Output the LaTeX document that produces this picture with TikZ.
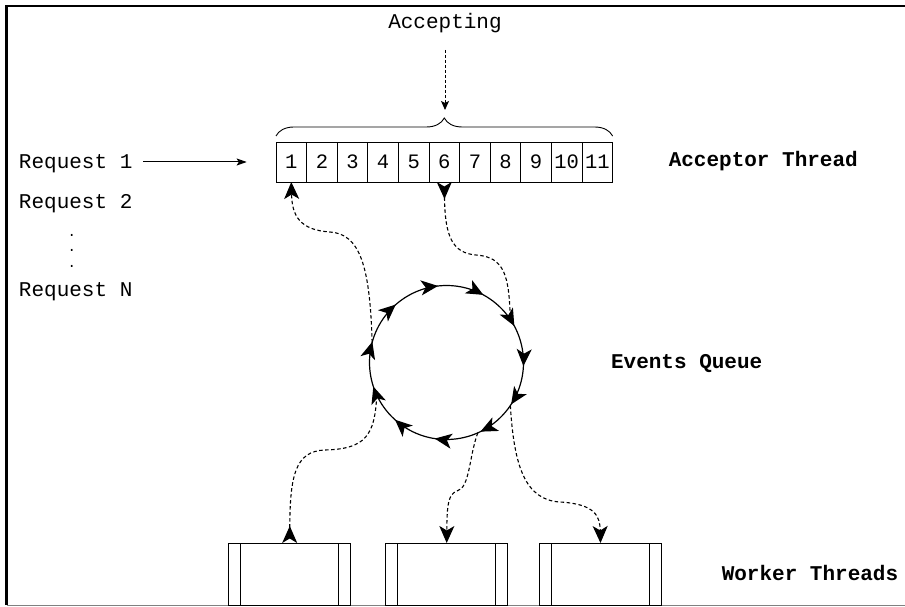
\documentclass[tikz,border=0pt]{standalone}
\usepackage{fontspec}
\setmainfont{Liberation Mono}
\usetikzlibrary{arrows.meta,decorations.pathreplacing,decorations.markings}
\tikzset{bigtip/.tip={Stealth[length=17pt,width=15pt,inset=4.5pt]}}
\begin{document}
\begin{tikzpicture}[x=1pt,y=1pt,
  lbl/.style={inner sep=0pt, outer sep=0pt, font=\fontsize{21}{24}\selectfont},
  dotlbl/.style={inner sep=0pt, outer sep=0pt, font=\fontsize{14}{15}\selectfont, anchor=base},
  blbl/.style={inner sep=0pt, outer sep=0pt, font=\fontsize{21}{24}\selectfont\bfseries},
  cell/.style={draw, line width=0.8pt, minimum width=30.6pt, minimum height=40pt,
    inner sep=0pt, outer sep=0pt, font=\fontsize{20.5}{24}\selectfont},
  worker/.style={draw, line width=1pt, minimum width=122.5pt, minimum height=62pt,
    inner sep=0pt, outer sep=0pt,
    path picture={\draw[line width=1pt]
      ([xshift=12.3pt]path picture bounding box.north west) -- ([xshift=12.3pt]path picture bounding box.south west)
      ([xshift=-12.3pt]path picture bounding box.north east) -- ([xshift=-12.3pt]path picture bounding box.south east);}},
  link/.style={line width=1.1pt, dash pattern=on 3.5pt off 2.5pt},
  endtip/.style={-{Stealth[length=17pt,width=15pt,inset=4.5pt]}},
  starttip/.style={{Stealth[length=17pt,width=15pt,inset=4.5pt,reversed]}-},
  ring/.style={line width=1.2pt, postaction={decorate},
    decoration={markings,
      mark=at position 0.016 with {\arrow{bigtip}},
      mark=at position 0.113 with {\arrow{bigtip}},
      mark=at position 0.210 with {\arrow{bigtip}},
      mark=at position 0.302 with {\arrow{bigtip}},
      mark=at position 0.388 with {\arrow{bigtip}},
      mark=at position 0.472 with {\arrow{bigtip}},
      mark=at position 0.558 with {\arrow{bigtip}},
      mark=at position 0.655 with {\arrow{bigtip}},
      mark=at position 0.747 with {\arrow{bigtip}},
      mark=at position 0.830 with {\arrow{bigtip}},
      mark=at position 0.924 with {\arrow{bigtip}}}}
]
\useasboundingbox (0,0) rectangle (905,606);
% frame
\draw[line width=2.5pt] (6.5,1) -- (6.5,600) -- (905,600);
\draw[gray, line width=1pt] (6.5,1) -- (905,1);

% labels
\node[lbl, anchor=base] (acc) at (445,577.7) {Accepting};
\node[lbl, anchor=base west] (r1) at (19,437.7) {Request 1};
\node[lbl, anchor=base west] (r2) at (19,397.7) {Request 2};
\node[dotlbl] (d1) at (71.7,369.5) {.};
\node[dotlbl] (d2) at (71.7,354.3) {.};
\node[dotlbl] (d3) at (71.7,338) {.};
\node[lbl, anchor=base west] (rn) at (19,309.3) {Request N};
\node[blbl, anchor=base] (at) at (763.3,439.3) {Acceptor Thread};
\node[blbl, anchor=base] (eq) at (686.7,237.5) {Events Queue};
\node[blbl, anchor=base] (wt) at (810,26) {Worker Threads};

% cells
\foreach \i in {1,...,11}
  \node[cell] (c\i) at ({276+30.6*(\i-0.5)},444) {\i};

% brace
\draw[line width=0.9pt, decorate, decoration={brace, amplitude=18pt}]
  ([yshift=6pt]c1.north west) -- ([yshift=6pt]c11.north east);

% accepting arrow
\coordinate (accA) at (445,556);
\coordinate (accB) at (445,496);
\draw[line width=1pt, dash pattern=on 3pt off 2pt, -{Stealth[length=9pt,width=8pt,inset=2pt]}] (accA) -- (accB);

% request arrow
\coordinate (ra) at (143.3,444);
\coordinate (rb) at (246.7,444);
\draw[line width=1pt, -{Stealth[length=10pt,width=7pt,inset=2pt]}] (ra) -- (rb);

% events queue circle
\node[circle, minimum size=154pt, inner sep=0pt, outer sep=0pt] (q) at (446.5,243.5) {};
\draw[ring] (q.137) arc[start angle=137, end angle=-223, radius=77pt];

% workers
\node[worker] (w1) at (289.7,32) {};
\node[worker] (w2) at (446.7,32) {};
\node[worker] (w3) at (600.5,32) {};

% dashed links
\draw[link, endtip] (q.165) .. controls (370,340) and (360,372) .. (330,374)
  .. controls (300,376) and (292,390) .. (c1.south);
\draw[link, starttip] (c6.south) .. controls (445,370) and (452,353) .. (476,351)
  .. controls (505,349) and (509,330) .. (q.34);
\draw[link, starttip] (w1.north) .. controls (290,130) and (295,155) .. (325,156)
  .. controls (365,157) and (375,170) .. (q.-155);
\draw[link, endtip] (q.-66.6) .. controls (469,150) and (470,118) .. (457,115)
  .. controls (448,112) and (447,100) .. (w2.north);
\draw[link, endtip] (q.-34) .. controls (514,140) and (525,106) .. (560,104)
  .. controls (595,102) and (600,90) .. (w3.north);
\end{tikzpicture}
\end{document}
